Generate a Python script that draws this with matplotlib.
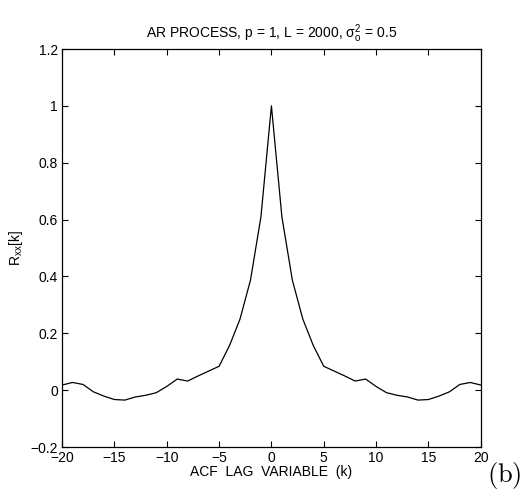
import matplotlib
matplotlib.use("Agg")
import matplotlib.pyplot as plt
import numpy as np

plt.rcParams['font.family'] = ['Liberation Sans', 'DejaVu Sans']
plt.rcParams['mathtext.fontset'] = 'custom'
plt.rcParams['mathtext.rm'] = 'Liberation Sans'
plt.rcParams['mathtext.it'] = 'Liberation Sans'
plt.rcParams['mathtext.sf'] = 'Liberation Sans'

# one-sided ACF, k = 0..20 (curve is symmetric)
acf_pos = [1.0, 0.61, 0.387, 0.25, 0.157, 0.084, 0.067, 0.05, 0.032, 0.039,
           0.013, -0.009, -0.018, -0.024, -0.035, -0.033, -0.021, -0.006,
           0.02, 0.027, 0.018]
lags = np.arange(-20, 21)
acf = acf_pos[:0:-1] + acf_pos

xticks = [-20, -15, -10, -5, 0, 5, 10, 15, 20]
yticks = [-0.2, 0, 0.2, 0.4, 0.6, 0.8, 1, 1.2]
ytick_labels = ['\u22120.2', '0', '0.2', '0.4', '0.6', '0.8', '1', '1.2']
xtick_labels = ['\u221220', '\u221215', '\u221210', '\u22125', '0', '5', '10', '15', '20']

fig = plt.figure(figsize=(5.26, 4.98), dpi=100)
ax = fig.add_axes([0.118, 0.1024, 0.796, 0.7992])
ax.plot(lags, acf, color='black', linewidth=0.9)

ax.set_xlim(-20, 20)
ax.set_ylim(-0.2, 1.2)
ax.set_xticks(xticks)
ax.set_xticklabels(xtick_labels)
ax.set_yticks(yticks)
ax.set_yticklabels(ytick_labels)
ax.tick_params(direction='in', top=True, right=True, labelsize=10, length=4, pad=3)
for s in ax.spines.values():
    s.set_linewidth(0.9)

ax.set_title(r'AR PROCESS, p = 1, L = 2000, $\sigma_o^2$ = 0.5', fontsize=10, pad=8)
ax.set_ylabel(r'R$_{xx}$[k]', fontsize=10, labelpad=4)
ax.set_xlabel('ACF  LAG  VARIABLE  (k)', fontsize=10, labelpad=0)

fig.text(0.958, 0.032, r'$\mathrm{(b)}$', fontsize=19, math_fontfamily='cm',
         ha='center', va='baseline')

fig.savefig('out.png', dpi=100)
